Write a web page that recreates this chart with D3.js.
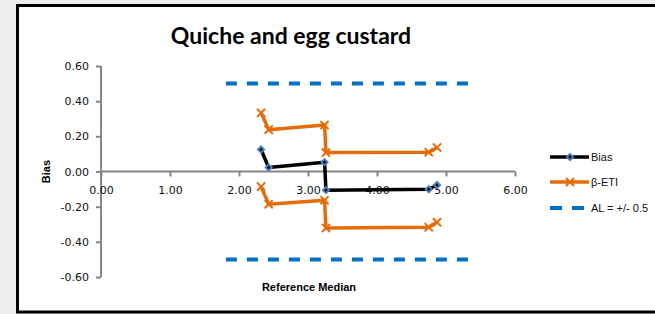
<!DOCTYPE html>
<html>
<head>
<meta charset="utf-8">
<script src="https://cdn.jsdelivr.net/npm/d3@7"></script>
<style>
  html, body { margin: 0; padding: 0; background: #efefef; }
  svg { display: block; }
</style>
</head>
<body>
<div class="bias_chart"></div>
<script>
// values
var medians = [2.32, 2.43, 3.24, 3.26, 4.75, 4.87];
var bias = [0.125, 0.023, 0.053, -0.106, -0.101, -0.077];
var etiUpper = [0.334, 0.238, 0.264, 0.108, 0.110, 0.137];
var etiLower = [-0.086, -0.186, -0.163, -0.321, -0.317, -0.289];
var alX = [1.81, 5.38];
var alLimits = [0.5, -0.5];
var xTicks = [0, 1, 2, 3, 4, 5, 6];
var yTicks = [-0.6, -0.4, -0.2, 0, 0.2, 0.4, 0.6];
var legendLabels = ["Bias", "\u03b2-ETI", "AL = +/- 0.5"];

var W = 655, H = 314;
var tickFont = "'DejaVu Sans', sans-serif";
var boldFont = "'Liberation Sans', Arial, sans-serif";
// excel style numbers: plain hyphen for minus
var fmt = function (d) { return d3.format(".2f")(d).replace("\u2212", "-"); };

var svg = d3.select(".bias_chart").append("svg")
  .attr("width", W).attr("height", H);

svg.append("rect").attr("width", W).attr("height", H).attr("fill", "#efefef");
// chart frame
svg.append("rect")
  .attr("x", 17.5).attr("y", 5.5)
  .attr("width", 700).attr("height", 306.5)
  .attr("fill", "#fff").attr("stroke", "#000").attr("stroke-width", 3);

var x = d3.scaleLinear().domain([0, 6]).range([101, 515]);
var y = d3.scaleLinear().domain([-0.6, 0.6]).range([277, 66]);

// title
svg.append("text")
  .attr("x", 291).attr("y", 44)
  .attr("text-anchor", "middle")
  .attr("font-family", "Lato, 'Open Sans', sans-serif")
  .attr("font-weight", "bold").attr("font-size", 23)
  .text("Quiche and egg custard");

// axes
var yAxis = svg.append("g")
  .attr("transform", "translate(" + x(0) + ",0)")
  .call(d3.axisLeft(y).tickValues(yTicks).tickSize(5).tickSizeOuter(0)
    .tickPadding(7).tickFormat(fmt));
var xAxis = svg.append("g")
  .attr("transform", "translate(0," + y(0) + ")")
  .call(d3.axisBottom(x).tickValues(xTicks).tickSize(5).tickSizeOuter(0)
    .tickPadding(10).tickFormat(fmt));

[yAxis, xAxis].forEach(function (ax) {
  ax.selectAll("path, line").attr("stroke", "#868686").attr("stroke-width", 2);
  ax.selectAll("text").attr("font-family", tickFont).attr("font-size", 11).attr("fill", "#111");
});
yAxis.select(".domain").attr("d", "M0," + y(0.6) + "V" + y(-0.6));
xAxis.select(".domain").attr("d", "M" + x(0) + ",0H" + x(6));

// axis titles
svg.append("text")
  .attr("transform", "translate(50," + y(0) + ") rotate(-90)")
  .attr("text-anchor", "middle")
  .attr("font-family", boldFont).attr("font-weight", "bold").attr("font-size", 11)
  .text("Bias");
svg.append("text")
  .attr("x", 309).attr("y", 291)
  .attr("text-anchor", "middle")
  .attr("font-family", boldFont).attr("font-weight", "bold").attr("font-size", 11)
  .text("Reference Median");

// acceptance limits
alLimits.forEach(function (v) {
  svg.append("line")
    .attr("x1", x(alX[0])).attr("x2", x(alX[1]))
    .attr("y1", y(v)).attr("y2", y(v))
    .attr("stroke", "#0070C0").attr("stroke-width", 4)
    .attr("stroke-dasharray", "11,10");
});

var line = d3.line()
  .x(function (d) { return x(d[0]); })
  .y(function (d) { return y(d[1]); });

var orange = "#E46C0A";
var xSym = d3.symbol().type(d3.symbolX).size(45);
var dSym = d3.symbol().type(d3.symbolSquare).size(20);

// beta-ETI bands
[etiUpper, etiLower].forEach(function (vals) {
  var pts = d3.zip(medians, vals);
  svg.append("path").attr("d", line(pts))
    .attr("fill", "none").attr("stroke", orange).attr("stroke-width", 3.5)
    .attr("stroke-linejoin", "round");
  svg.selectAll(null).data(pts).enter().append("path")
    .attr("d", xSym)
    .attr("transform", function (d) { return "translate(" + x(d[0]) + "," + y(d[1]) + ")"; })
    .attr("fill", "none").attr("stroke", orange).attr("stroke-width", 2);
});

// bias
var biasPts = d3.zip(medians, bias);
svg.append("path").attr("d", line(biasPts))
  .attr("fill", "none").attr("stroke", "#000").attr("stroke-width", 3.5)
  .attr("stroke-linejoin", "round");
svg.selectAll(null).data(biasPts).enter().append("path")
  .attr("d", dSym)
  .attr("transform", function (d) { return "translate(" + x(d[0]) + "," + y(d[1]) + ") rotate(45)"; })
  .attr("fill", "#111").attr("stroke", "#4F81BD").attr("stroke-width", 1.8);

// legend
var legend = svg.append("g").attr("transform", "translate(550,0)");
var ly = [157, 182, 208];
legend.append("line").attr("x1", 0).attr("x2", 39).attr("y1", ly[0]).attr("y2", ly[0])
  .attr("stroke", "#000").attr("stroke-width", 3.5);
legend.append("path").attr("d", dSym)
  .attr("transform", "translate(20," + ly[0] + ") rotate(45)")
  .attr("fill", "#111").attr("stroke", "#4F81BD").attr("stroke-width", 1.8);
legend.append("line").attr("x1", 0).attr("x2", 39).attr("y1", ly[1]).attr("y2", ly[1])
  .attr("stroke", orange).attr("stroke-width", 3.5);
legend.append("path").attr("d", xSym)
  .attr("transform", "translate(20," + ly[1] + ")")
  .attr("fill", "none").attr("stroke", orange).attr("stroke-width", 2);
legend.append("line").attr("x1", 0).attr("x2", 35).attr("y1", ly[2]).attr("y2", ly[2])
  .attr("stroke", "#0070C0").attr("stroke-width", 4).attr("stroke-dasharray", "12,10");
legend.selectAll("text").data(legendLabels).enter().append("text")
  .attr("x", 41).attr("y", function (d, i) { return ly[i] + 4; })
  .attr("font-family", boldFont).attr("font-size", 11).attr("fill", "#111")
  .text(function (d) { return d; });
</script>
</body>
</html>
